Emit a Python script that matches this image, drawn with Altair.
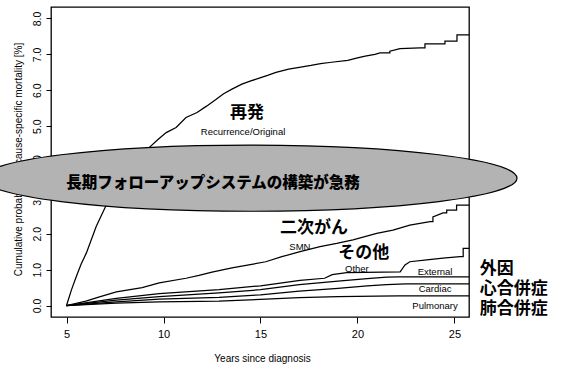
import altair as alt
import pandas as pd

# Cumulative cause-specific mortality (%) by years since diagnosis.
# Repeated years mark the vertical jumps of the step curves.
rec_years = [5.0, 5.25, 5.5, 5.75, 6.02, 6.53, 7.05, 7.5, 8.0, 8.6, 9.26, 9.7,
             10.14, 10.65, 11.16, 11.73, 12.2, 12.7, 13.1, 13.53, 14.04, 14.5, 14.9,
             15.4, 15.8, 16.45, 17.0, 17.6, 18.1, 18.66, 19.5, 20.0, 20.4, 20.9,
             21.16, 21.67, 21.67, 22.19, 23.22, 23.48, 23.48, 24.51, 24.51, 25.13,
             25.13, 25.75]
rec_pct = [0.0, 0.43, 0.8, 1.15, 1.46, 2.2, 2.8, 3.2, 3.6, 4.0, 4.4, 4.62,
           4.82, 4.96, 5.24, 5.38, 5.55, 5.74, 5.9, 6.03, 6.17, 6.26, 6.33,
           6.42, 6.5, 6.59, 6.64, 6.69, 6.74, 6.78, 6.83, 6.9, 6.95, 7.0,
           7.04, 7.04, 7.09, 7.16, 7.18, 7.18, 7.29, 7.29, 7.37, 7.37,
           7.54, 7.54]

smn_years = [5.0, 6.0, 6.7, 7.57, 8.9, 9.78, 11.16, 11.83, 12.5, 13.53, 14.4, 15.27,
             16.1, 17.04, 18.07, 18.93, 19.77, 20.99, 21.83, 22.7, 23.74, 23.89,
             23.89, 24.41, 24.6, 24.6, 25.11, 25.11, 25.75]
smn_pct = [0.0, 0.12, 0.24, 0.38, 0.5, 0.63, 0.76, 0.84, 0.93, 1.05, 1.13, 1.22,
           1.36, 1.5, 1.64, 1.73, 1.83, 2.01, 2.1, 2.24, 2.34, 2.34,
           2.47, 2.58, 2.58, 2.66, 2.66, 2.8, 2.8]

other_years = [5.0, 7.57, 9.78, 12.86, 15.0, 17.04, 18.3, 18.7, 19.44, 22.2, 22.45,
               22.7, 23.57, 24.41, 25.28, 25.45, 25.45, 25.75]
other_pct = [0.0, 0.2, 0.33, 0.44, 0.55, 0.7, 0.76, 0.86, 0.92, 0.94, 1.13,
             1.22, 1.27, 1.32, 1.36, 1.36, 1.59, 1.59]

external_years = [5.0, 7.57, 9.78, 12.86, 15.0, 17.0, 19.0, 20.5, 21.5, 22.1, 25.75]
external_pct = [0.0, 0.15, 0.25, 0.35, 0.44, 0.58, 0.68, 0.75, 0.79, 0.8, 0.8]

cardiac_years = [5.0, 7.57, 9.78, 12.86, 15.0, 17.0, 19.0, 20.5, 21.5, 22.5, 25.75]
cardiac_pct = [0.0, 0.1, 0.18, 0.23, 0.3, 0.4, 0.48, 0.55, 0.58, 0.6, 0.6]

pulmonary_years = [5.0, 7.57, 9.78, 12.86, 15.0, 17.0, 19.0, 21.0, 22.1, 25.75]
pulmonary_pct = [0.0, 0.07, 0.1, 0.12, 0.17, 0.22, 0.25, 0.26, 0.27, 0.27]

series = [
    ("Recurrence/Original", rec_years, rec_pct),
    ("SMN", smn_years, smn_pct),
    ("Other", other_years, other_pct),
    ("External", external_years, external_pct),
    ("Cardiac", cardiac_years, cardiac_pct),
    ("Pulmonary", pulmonary_years, pulmonary_pct),
]
rows = []
for name, yrs, pcts in series:
    for i, (yr, p) in enumerate(zip(yrs, pcts)):
        rows.append({"cause": name, "order": i, "years": yr, "pct": p})
curves = pd.DataFrame(rows)

# Labels placed next to the curves
jp_labels = pd.DataFrame({
    "text": ["再発", "二次がん", "その他"],
    "years": [14.3, 17.76, 20.33],
    "pct": [5.37, 2.16, 1.46],
})
en_labels = pd.DataFrame({
    "text": ["Recurrence/Original", "SMN", "Other", "External", "Cardiac", "Pulmonary"],
    "years": [14.1, 17.03, 19.97, 24.0, 24.0, 24.0],
    "pct": [4.84, 1.63, 1.02, 0.93, 0.46, -0.01],
})
# Japanese names of the three minor causes, stacked beside the plot
side_names = ["外因", "心合併症", "肺合併症"]
side_labels = pd.DataFrame({
    "text": ["\n".join(side_names)],
    "years": [26.31],
    "pct": [1.03],
})
banner = pd.DataFrame({"years": [14.46], "pct": [3.55]})
banner_text = pd.DataFrame({"text": ["長期フォローアップシステムの構築が急務"],
                            "years": [12.55], "pct": [3.41]})

x_scale = alt.Scale(domain=[4.2, 25.75], nice=False, zero=False)
y_scale = alt.Scale(domain=[-0.32, 8.32], nice=False, zero=False)

x_enc = alt.X("years:Q", scale=x_scale, axis=alt.Axis(
    values=[5, 10, 15, 20, 25], format="d", title="Years since diagnosis",
    domain=False, grid=False, tickColor="black", tickSize=6, tickWidth=1,
    labelFont="Liberation Sans", labelFontSize=11, labelColor="black", labelPadding=5,
    titleFont="Liberation Sans", titleFontSize=10, titleFontWeight="normal",
    titleColor="black", titleX=211, titleY=41, titleBaseline="middle"))
y_enc = alt.Y("pct:Q", scale=y_scale, axis=alt.Axis(
    values=[0, 1, 2, 3, 4, 5, 6, 7, 8], format=".1f",
    title="Cumulative probability of cause-specific mortality [%]",
    domain=False, grid=False, tickColor="black", tickSize=5, tickWidth=1,
    labelFont="Liberation Sans", labelFontSize=10.5, labelColor="black",
    labelAngle=270, labelAlign="center", labelBaseline="bottom", labelPadding=4,
    titleFont="Liberation Sans", titleFontSize=10, titleFontWeight="normal",
    titleColor="black", titleAngle=270, titleX=-33, titleY=152,
    titleAlign="center", titleBaseline="middle"))

lines = alt.Chart(curves).mark_line(
    interpolate="linear", color="black", strokeWidth=1.25
).encode(x=x_enc, y=y_enc, detail="cause:N", order="order:Q")

jp = alt.Chart(jp_labels).mark_text(
    font="Noto Sans CJK JP", fontSize=17, fontWeight="bold", color="black"
).encode(x=x_enc, y=y_enc, text="text:N")

en = alt.Chart(en_labels).mark_text(
    font="Liberation Sans", fontSize=9.5, color="black"
).encode(x=x_enc, y=y_enc, text="text:N")

side = alt.Chart(side_labels).mark_text(
    font="Noto Sans CJK JP", fontSize=17, fontWeight="bold", color="black",
    align="left", baseline="middle", lineBreak="\n", lineHeight=20
).encode(x=x_enc, y=y_enc, text="text:N")

# Flat ellipse banner drawn as a custom symbol
ELLIPSE = ("M -1 0 C -1 -0.0685 -0.5523 -0.124 0 -0.124 "
           "C 0.5523 -0.124 1 -0.0685 1 0 "
           "C 1 0.0685 0.5523 0.124 0 0.124 "
           "C -0.5523 0.124 -1 0.0685 -1 0 Z")
oval = alt.Chart(banner).mark_point(
    shape=ELLIPSE, size=285156, filled=True, fill="#b3b3b3", stroke="black",
    strokeWidth=1.2, opacity=1, fillOpacity=1
).encode(x=x_enc, y=y_enc)

oval_text = alt.Chart(banner_text).mark_text(
    font="Noto Sans CJK JP", fontSize=15.5, fontWeight=900, color="black"
).encode(x=x_enc, y=y_enc, text="text:N")

chart = alt.layer(lines, jp, en, side, oval, oval_text).properties(
    width=418, height=310,
    autosize=alt.AutoSizeParams(type="none"),
    padding={"left": 51, "top": 7, "right": 98, "bottom": 50},
    background="white",
).configure_view(stroke="black", strokeWidth=1.3)

chart.save("out.html", embed_options={"renderer": "svg", "actions": False})
